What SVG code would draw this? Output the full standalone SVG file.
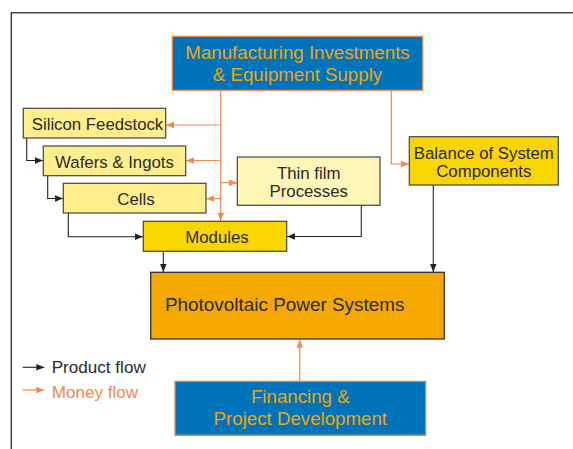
<svg xmlns="http://www.w3.org/2000/svg" width="573" height="449" viewBox="0 0 573 449">
<defs>
<style>
text{font-family:"Liberation Sans",Arial,Helvetica,sans-serif;}
.dark{fill:#2a2a2a;font-size:16.8px;}
.gold{fill:#F0A50A;font-size:18.7px;}
.blue{fill:#0074BA;stroke:#F08A48;stroke-width:1.3;}
.pale{fill:#FFEF8C;stroke:#444;stroke-width:1.2;}
.paler{fill:#FFF6B8;stroke:#444;stroke-width:1.2;}
.yel{fill:#FAD600;stroke:#444;stroke-width:1.2;}
.org{fill:#F5A900;stroke:#333;stroke-width:1.3;}
.pf{fill:none;stroke:#222;stroke-width:1.1;marker-end:url(#ab);}
.mf{fill:none;stroke:#F5884A;stroke-width:1.2;}
.mfa{fill:none;stroke:#F5884A;stroke-width:1.2;marker-end:url(#ao);}
</style>
<marker id="ab" viewBox="0 0 8 8" refX="8" refY="4" markerWidth="8" markerHeight="8" markerUnits="userSpaceOnUse" orient="auto"><path d="M0,0.8 L8,4 L0,7.2 Z" fill="#222"/></marker>
<marker id="ao" viewBox="0 0 8 8" refX="8" refY="4" markerWidth="8" markerHeight="8" markerUnits="userSpaceOnUse" orient="auto"><path d="M0,0.8 L8,4 L0,7.2 Z" fill="#F5884A"/></marker>
</defs>
<rect width="573" height="449" fill="#fff"/>
<path d="M11.3,449 V12.7 H573" fill="none" stroke="#444" stroke-width="1.5"/>

<g id="connectors">
<path class="pf" d="M26.7,138 V160.5 H43"/>
<path class="pf" d="M47.7,176 V198.5 H63"/>
<path class="pf" d="M68.3,213 V236.7 H143"/>
<path class="pf" d="M361.3,205.3 V236.5 H287"/>
<path class="pf" d="M163.3,251.3 V272"/>
<path class="pf" d="M433.3,185 V272"/>
<path class="mfa" d="M220.7,90.3 V221"/>
<path class="mfa" d="M220.7,125 H166"/>
<path class="mfa" d="M220.7,160.5 H186"/>
<path class="mfa" d="M220.7,182.7 H237"/>
<path class="mfa" d="M220.7,198.7 H206.3"/>
<path class="mfa" d="M391.3,90.3 V164 H409"/>
<path class="mfa" d="M299.7,381 V339.5"/>
</g>

<g id="manufacturing">
<rect class="blue" x="172.3" y="36.3" width="250.4" height="54"/>
<text class="gold" x="297.5" y="59.2" text-anchor="middle">Manufacturing Investments</text>
<text class="gold" x="297.5" y="81.4" text-anchor="middle">&amp; Equipment Supply</text>
</g>
<g id="silicon">
<rect class="pale" x="23.3" y="108.3" width="142.4" height="29.7"/>
<text class="dark" x="97.5" y="130.3" text-anchor="middle">Silicon Feedstock</text>
</g>
<g id="wafers">
<rect class="pale" x="43.3" y="146" width="142.4" height="29.7"/>
<text class="dark" x="114.5" y="168" text-anchor="middle">Wafers &amp; Ingots</text>
</g>
<g id="cells">
<rect class="pale" x="63.3" y="183.3" width="142.7" height="29.7"/>
<text class="dark" x="136" y="205" text-anchor="middle">Cells</text>
</g>
<g id="modules">
<rect class="yel" x="143.3" y="221.3" width="143.4" height="30"/>
<text class="dark" x="217" y="243" text-anchor="middle">Modules</text>
</g>
<g id="thinfilm">
<rect class="paler" x="237.3" y="157" width="142.7" height="48.3"/>
<text class="dark" x="308.7" y="179.3" text-anchor="middle">Thin film</text>
<text class="dark" x="308.7" y="196.7" text-anchor="middle">Processes</text>
</g>
<g id="bos">
<rect class="yel" x="409.3" y="136.7" width="149" height="48.3"/>
<text class="dark" x="483.8" y="159.3" text-anchor="middle">Balance of System</text>
<text class="dark" x="483.8" y="177" text-anchor="middle">Components</text>
</g>
<g id="pv">
<rect class="org" x="150.7" y="272.3" width="293.6" height="66.7"/>
<text class="dark" x="165" y="311" style="font-size:18.9px">Photovoltaic Power Systems</text>
</g>
<g id="financing">
<rect class="blue" x="175" y="381.3" width="250.7" height="54"/>
<text class="gold" x="300.3" y="403.4" text-anchor="middle">Financing &amp;</text>
<text class="gold" x="300.3" y="425.2" text-anchor="middle">Project Development</text>
</g>
<g id="legend">
<path class="pf" d="M22.7,367.3 H44.3"/>
<text x="51.7" y="373.2" style="font-size:17.1px;fill:#2a2a2a">Product flow</text>
<path class="mfa" d="M22.7,390 H44.3"/>
<text x="51.7" y="397.6" style="font-size:17.1px;fill:#F5884A">Money flow</text>
</g>
</svg>
